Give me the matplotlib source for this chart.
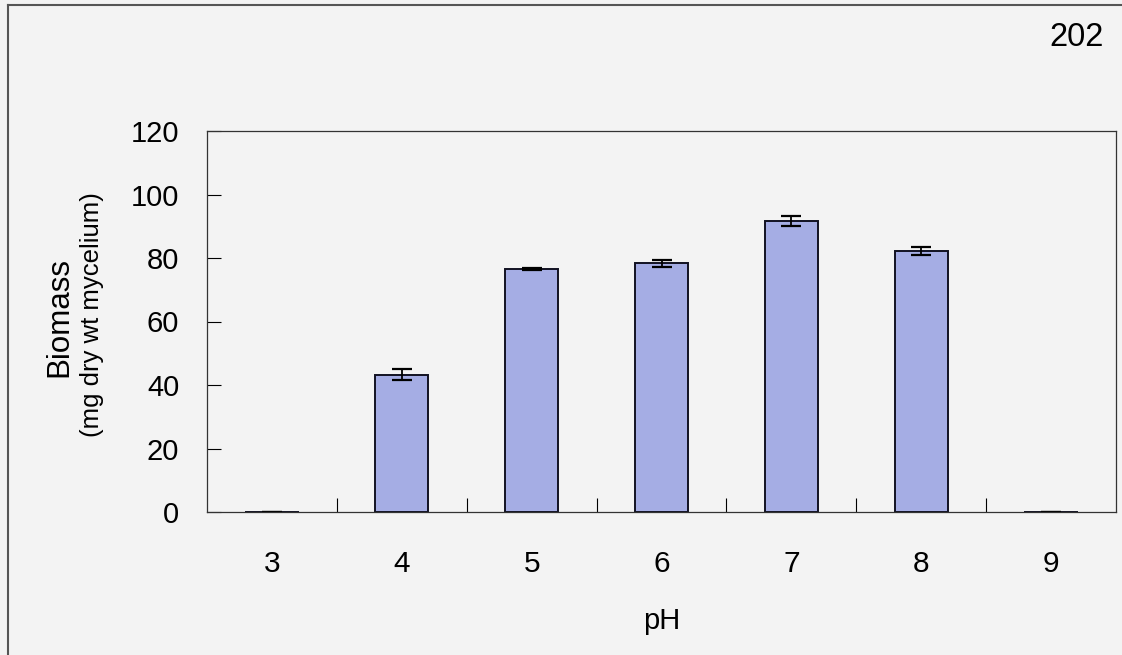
import matplotlib
matplotlib.use("Agg")
import matplotlib.pyplot as plt
from matplotlib.lines import Line2D

categories = ["3", "4", "5", "6", "7", "8", "9"]
biomass = [0, 43.2, 76.6, 78.4, 91.6, 82.2, 0]
errors = [0, 1.7, 0.3, 1.1, 1.6, 1.3, 0]
y_ticks = [0, 20, 40, 60, 80, 100, 120]

plt.rcParams['font.family'] = ['Liberation Sans', 'DejaVu Sans']

bg = '#f3f3f3'
fig = plt.figure(figsize=(11.22, 6.55), dpi=100, facecolor=bg)
ax = fig.add_axes([207/1122, 1 - 512/655, (1116-207)/1122, (512-131)/655])
ax.set_facecolor(bg)

x = list(range(len(categories)))
ax.bar(x, biomass, width=0.41, color='#a5ade4', edgecolor='#111122', linewidth=1.4)
ax.errorbar(x, biomass, yerr=errors, fmt='none', ecolor='black',
            elinewidth=1.3, capsize=7, capthick=1.6)

ax.set_xlim(-0.5, len(categories) - 0.5)
ax.set_ylim(0, 120)
ax.set_yticks(y_ticks)
ax.set_yticklabels([str(v) for v in y_ticks], fontsize=21)
ax.set_xticks(x)
ax.set_xticklabels(categories, fontsize=21.5)
ax.tick_params(axis='x', length=0, pad=27)
ax.tick_params(axis='y', direction='in', length=10, width=0.8, pad=20)
# inward boundary ticks on x axis
ax.set_xticks([i + 0.5 for i in x[:-1]], minor=True)
ax.tick_params(axis='x', which='minor', direction='in', length=10, width=0.8)

for s in ax.spines.values():
    s.set_linewidth(0.9)
    s.set_color('#333333')

ax.set_xlabel('pH', fontsize=21, labelpad=21)

fig.text(59/1122, 1 - 317/655, 'Biomass', rotation=90, fontsize=22.5,
         ha='center', va='center')
fig.text(92/1122, 1 - 315/655, '(mg dry wt mycelium)', rotation=90, fontsize=18.5,
         ha='center', va='center')

fig.text(1077/1122, 1 - 37/655, '202', fontsize=23.5, ha='center', va='center')

# outer page frame
fig.add_artist(Line2D([8/1122, 1], [1 - 5/655, 1 - 5/655], transform=fig.transFigure,
                      color='#555555', linewidth=1.5))
fig.add_artist(Line2D([8/1122, 8/1122], [0, 1 - 5/655], transform=fig.transFigure,
                      color='#555555', linewidth=1.5))

fig.savefig('out.png', dpi=100, facecolor=bg)
